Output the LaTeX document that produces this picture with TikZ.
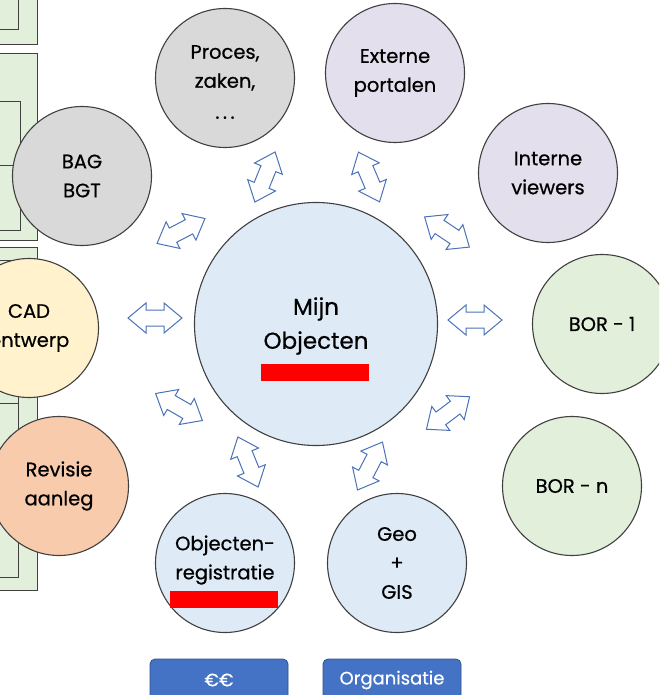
\documentclass[tikz,border=0pt]{standalone}
\usepackage{fontspec}
\setmainfont{Poppins}[BoldFont=Poppins, BoldFeatures={FakeBold=0.6}]
\definecolor{edge}{HTML}{404040}
\definecolor{grayfill}{HTML}{D9D9D9}
\definecolor{lavfill}{HTML}{E4DFEC}
\definecolor{greenfill}{HTML}{E2EFDA}
\definecolor{bluefill}{HTML}{DEEBF7}
\definecolor{cadfill}{HTML}{FFF2CC}
\definecolor{revfill}{HTML}{F8CBAD}
\definecolor{arrowblue}{HTML}{4A72B8}
\definecolor{btnfill}{HTML}{4472C4}
\definecolor{btnedge}{HTML}{2F528F}
\definecolor{redbar}{HTML}{FF0000}
\tikzset{
  bubble/.style={circle, draw=edge, line width=1.1pt, minimum size=139pt, inner sep=0pt, align=center,
     font=\fontsize{19.5}{29}\selectfont\bfseries},
  bigbubble/.style={bubble, minimum size=243pt},
  bigtext/.style={align=center, font=\fontsize{23}{34}\selectfont\bfseries},
  smalltext/.style={align=center, font=\fontsize{19.5}{29}\selectfont\bfseries},
  arrowline/.style={draw=arrowblue, fill=white, line width=1pt, line join=miter},
  dblarrow/.pic={\path[arrowline] (-27,0) -- (-9,15) -- (-9,8) -- (9,8) -- (9,15) -- (27,0) -- (9,-15) -- (9,-8) -- (-9,-8) -- (-9,-15) -- cycle;},
  panel/.style={draw=edge, fill=greenfill, line width=1pt},
  inner/.style={draw=edge, line width=1pt},
  btn/.style={rectangle, rounded corners=5pt, draw=btnedge, fill=btnfill, text=white, line width=0.8pt,
     minimum width=138pt, minimum height=42pt, inner sep=0pt, font=\fontsize{18}{20}\selectfont\bfseries},
  bar/.style={fill=redbar, draw=none}
}
\begin{document}
\begin{tikzpicture}[x=1pt, y=-1pt]
\useasboundingbox (0,0) rectangle (659,695);
\clip (0,0) rectangle (659,695);
\fill[white] (0,0) rectangle (659,695);
% left panels
\path[panel] (-2,-2) rectangle (37,45);
\path[inner] (-2,-2) rectangle (18,30);
\path[panel] (-2,54) rectangle (37,240);
\path[inner] (-2,102) rectangle (20,166);
\path[inner] (-2,166) rectangle (20,230);
\path[panel] (-2,247) rectangle (37,590);
\path[inner] (-2,260) rectangle (18,403);
\path[inner] (-2,403) rectangle (18,577);
% circles
\node[bubble, fill=grayfill] (bag) at (82,176) {BAG\\BGT};
\node[bubble, fill=grayfill] (proces) at (225,78) {};
\node[smalltext] (procestxt) at (225,82) {Proces,\\zaken,\\\raisebox{-2pt}{.\hspace{3.5pt}.\hspace{3.5pt}.}};
\node[bubble, fill=lavfill] (externe) at (395,73) {Externe\\portalen};
\node[bubble, fill=lavfill] (interne) at (548,173) {Interne\\viewers};
\node[bubble, fill=greenfill] (bor1) at (602,324) {BOR - 1};
\node[bubble, fill=greenfill] (born) at (572,486) {BOR - n};
\node[bubble, fill=bluefill] (geo) at (397,563) {Geo\\+\\GIS};
\node[bubble, fill=bluefill] (objreg) at (225,563) {};
\node[smalltext] (objregtxt) at (225,560) {Objecten-\\registratie};
\node[bubble, fill=cadfill] (cad) at (29,328) {CAD\\ontwerp};
\node[bubble, fill=revfill] (rev) at (59,486) {Revisie\\aanleg};
\node[bigbubble, fill=bluefill] (mijn) at (316,324) {};
\node[bigtext] (mijntxt) at (316,326) {Mijn\\Objecten};
% red bars
\path[bar] (261,364) rectangle (369,381);
\path[bar] (170,591) rectangle (278,608);
% double arrows
\pic (a1) at (155,318) {dblarrow};
\pic[rotate=27.5] (a2) at (181,231) {dblarrow};
\pic[rotate=68] (a3) at (265,177) {dblarrow};
\pic[rotate=113] (a4) at (369,177) {dblarrow};
\pic[rotate=-34] (a5) at (447,232) {dblarrow};
\pic (a6) at (475,320) {dblarrow};
\pic[rotate=37] (a7) at (448,413) {dblarrow};
\pic[rotate=62.5] (a8) at (370,466) {dblarrow};
\pic[rotate=112] (a9) at (248,462) {dblarrow};
\pic[rotate=-30] (a10) at (179,407) {dblarrow};
% buttons
\node[btn] (euro) at (219,680) {€€};
\node[btn] (org) at (392,680) {Organisatie};
\end{tikzpicture}
\end{document}
